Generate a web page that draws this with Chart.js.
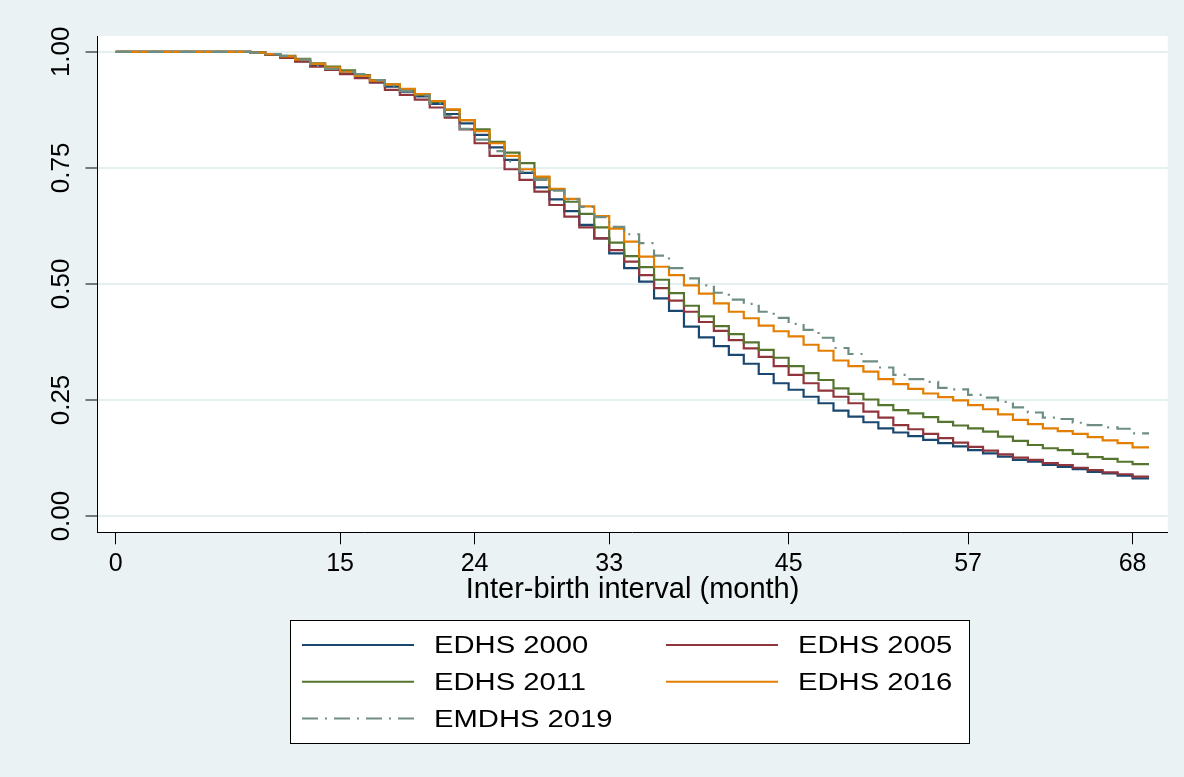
<!DOCTYPE html>
<html>
<head>
<meta charset="utf-8">
<title>Inter-birth interval</title>
<script src="https://cdn.jsdelivr.net/npm/chart.js@4/dist/chart.umd.min.js"></script>
<style>
  html, body { margin: 0; padding: 0; background: #eaf2f3; }
  canvas { display: block; }
</style>
</head>
<body>
<canvas id="km" width="1184" height="777"></canvas>
<script>
// Months (x) and survival estimates
const months = [0,1,2,3,4,5,6,7,8,9,10,11,12,13,14,15,16,17,18,19,20,21,22,23,24,25,26,27,28,29,30,31,32,33,34,
  35,36,37,38,39,40,41,42,43,44,45,46,47,48,49,50,51,52,53,54,55,56,57,58,59,60,61,62,63,64,65,66,67,68];
const lastTime = 69.1;

const edhs2000 = [1,1,1,1,1,1,1,1,1,
  0.998,0.994,0.988,0.980,0.970,0.963,0.953,0.944,0.934,0.925,
  0.914,0.904,0.888,0.866,0.846,0.821,0.794,0.767,0.739,0.708,
  0.682,0.657,0.627,0.598,0.566,0.534,0.505,0.469,0.442,0.408,
  0.385,0.366,0.347,0.328,0.306,0.286,0.272,0.257,0.243,0.227,
  0.214,0.202,0.189,0.180,0.172,0.164,0.157,0.150,0.142,0.135,
  0.128,0.121,0.117,0.110,0.106,0.101,0.095,0.092,0.087,0.081];
const edhs2005 = [1,1,1,1,1,1,1,1,1,
  0.998,0.994,0.987,0.979,0.968,0.961,0.952,0.943,0.934,0.918,
  0.907,0.897,0.880,0.858,0.833,0.803,0.776,0.747,0.724,0.699,
  0.670,0.645,0.622,0.598,0.573,0.548,0.519,0.491,0.464,0.440,
  0.418,0.399,0.379,0.361,0.343,0.323,0.304,0.286,0.270,0.257,
  0.243,0.225,0.212,0.196,0.187,0.177,0.168,0.158,0.149,0.141,
  0.133,0.126,0.121,0.114,0.110,0.104,0.099,0.094,0.090,0.085];
const edhs2011 = [1,1,1,1,1,1,1,1,1,
  0.998,0.995,0.991,0.985,0.975,0.968,0.960,0.950,0.939,0.930,
  0.918,0.907,0.892,0.875,0.853,0.833,0.806,0.783,0.760,0.729,
  0.703,0.677,0.651,0.622,0.589,0.560,0.536,0.509,0.480,0.453,
  0.430,0.409,0.392,0.374,0.358,0.341,0.323,0.308,0.293,0.275,
  0.263,0.251,0.239,0.228,0.221,0.213,0.203,0.195,0.189,0.182,
  0.171,0.162,0.153,0.146,0.142,0.134,0.127,0.123,0.117,0.112];
const edhs2016 = [1,1,1,1,1,1,1,1,1,
  0.998,0.995,0.990,0.983,0.974,0.966,0.957,0.948,0.938,0.930,
  0.920,0.909,0.894,0.876,0.853,0.829,0.803,0.776,0.747,0.731,
  0.705,0.683,0.667,0.646,0.619,0.591,0.559,0.537,0.519,0.497,
  0.479,0.458,0.440,0.426,0.410,0.398,0.387,0.369,0.356,0.335,
  0.323,0.311,0.295,0.284,0.274,0.264,0.256,0.249,0.239,0.230,
  0.219,0.207,0.198,0.189,0.183,0.177,0.170,0.163,0.157,0.148];
const emdhs2019 = [1,1,1,1,1,1,1,1,1,
  0.998,0.995,0.991,0.983,0.970,0.963,0.957,0.952,0.939,0.927,
  0.916,0.906,0.889,0.862,0.834,0.811,0.786,0.764,0.742,0.724,
  0.701,0.682,0.666,0.644,0.623,0.607,0.588,0.561,0.534,0.512,
  0.497,0.481,0.466,0.457,0.440,0.427,0.414,0.401,0.384,0.362,
  0.349,0.333,0.320,0.304,0.295,0.289,0.276,0.273,0.261,0.255,
  0.246,0.234,0.223,0.212,0.209,0.201,0.196,0.191,0.188,0.178];

const seriesNames = ["EDHS 2000", "EDHS 2005", "EDHS 2011", "EDHS 2016", "EMDHS 2019"];
const xTicks = [0, 15, 24, 33, 45, 57, 68];
const yTicks = [0, 0.25, 0.5, 0.75, 1];

// Stata s2color palette
const colors = ["#1a476f", "#90353b", "#55752f", "#e37e00", "#6e8e84"];
const dashes = [[], [], [], [], [16, 7, 2, 7]];

const FONT = '"Liberation Sans", Arial, sans-serif';

function toPoints(vals) {
  const pts = months.map((m, i) => ({ x: m, y: vals[i] }));
  pts.push({ x: lastTime, y: vals[vals.length - 1] });
  return pts;
}

// White plot region
const plotBg = {
  id: "plotBg",
  beforeDraw(chart) {
    const { ctx, chartArea: a } = chart;
    ctx.save();
    ctx.fillStyle = "#eaf2f3";
    ctx.fillRect(0, 0, chart.width, chart.height);
    ctx.fillStyle = "#ffffff";
    ctx.fillRect(a.left, a.top, a.right - a.left, a.bottom - a.top);
    ctx.restore();
  }
};

// Boxed two-column legend below the plot
const boxLegend = {
  id: "boxLegend",
  afterDraw(chart) {
    const ctx = chart.ctx;
    ctx.save();
    ctx.fillStyle = "#ffffff";
    ctx.fillRect(290, 620, 680, 124);
    ctx.strokeStyle = "#000";
    ctx.lineWidth = 1;
    ctx.strokeRect(290.5, 620.5, 679, 123);
    chart.data.datasets.forEach((ds, i) => {
      const col = i % 2, row = Math.floor(i / 2);
      const x = 302 + col * 364, y = 645 + row * 36.7;
      ctx.strokeStyle = ds.borderColor;
      ctx.lineWidth = 2;
      ctx.setLineDash(ds.borderDash || []);
      ctx.beginPath();
      ctx.moveTo(x, y);
      ctx.lineTo(x + 112, y);
      ctx.stroke();
      ctx.setLineDash([]);
      ctx.save();
      ctx.translate(x + 132, y + 2);
      ctx.scale(1.27, 1);
      ctx.fillStyle = "#000";
      ctx.font = "23px " + FONT;
      ctx.textBaseline = "middle";
      ctx.fillText(ds.label, 0, 0);
      ctx.restore();
    });
    ctx.restore();
  }
};

const allSeries = [edhs2000, edhs2005, edhs2011, edhs2016, emdhs2019];

new Chart(document.getElementById("km"), {
  type: "line",
  data: {
    datasets: allSeries.map((vals, i) => ({
      label: seriesNames[i],
      data: toPoints(vals),
      borderColor: colors[i],
      borderDash: dashes[i],
      borderWidth: 2.2,
      pointRadius: 0,
      stepped: "before",
      fill: false,
      order: allSeries.length - i
    }))
  },
  options: {
    responsive: false,
    animation: false,
    layout: { padding: { top: 36, right: 16.3, bottom: 167, left: 0 } },
    plugins: {
      legend: { display: false },
      tooltip: { enabled: false }
    },
    scales: {
      x: {
        type: "linear",
        min: -1.22,
        max: 70.35,
        afterBuildTicks: s => { s.ticks = xTicks.map(v => ({ value: v })); },
        afterFit: s => { s.height = 77.7; },
        ticks: {
          autoSkip: false,
          maxRotation: 0,
          padding: 5,
          color: "#000",
          font: { family: FONT, size: 25 },
          callback: v => String(v)
        },
        grid: {
          drawOnChartArea: false,
          drawTicks: true,
          tickLength: 12,
          tickColor: "#000",
          tickWidth: 1
        },
        border: { display: true, color: "#000", width: 1 },
        title: {
          display: true,
          text: "Inter-birth interval (month)",
          color: "#000",
          font: { family: FONT, size: 29 },
          padding: { top: 0, bottom: 3 }
        }
      },
      y: {
        type: "linear",
        min: -0.035,
        max: 1.034,
        afterBuildTicks: s => { s.ticks = yTicks.map(v => ({ value: v })); },
        afterFit: s => { s.width = 97.5; },
        ticks: {
          minRotation: 90,
          maxRotation: 90,
          crossAlign: "center",
          padding: -2,
          color: "#000",
          font: { family: FONT, size: 26 },
          callback: v => Number(v).toFixed(2)
        },
        grid: {
          color: "#e6eff0",
          lineWidth: 2,
          drawTicks: true,
          tickLength: 12,
          tickColor: "#000",
          tickWidth: 1
        },
        border: { display: true, color: "#000", width: 1 }
      }
    }
  },
  plugins: [plotBg, boxLegend]
});
</script>
</body>
</html>
